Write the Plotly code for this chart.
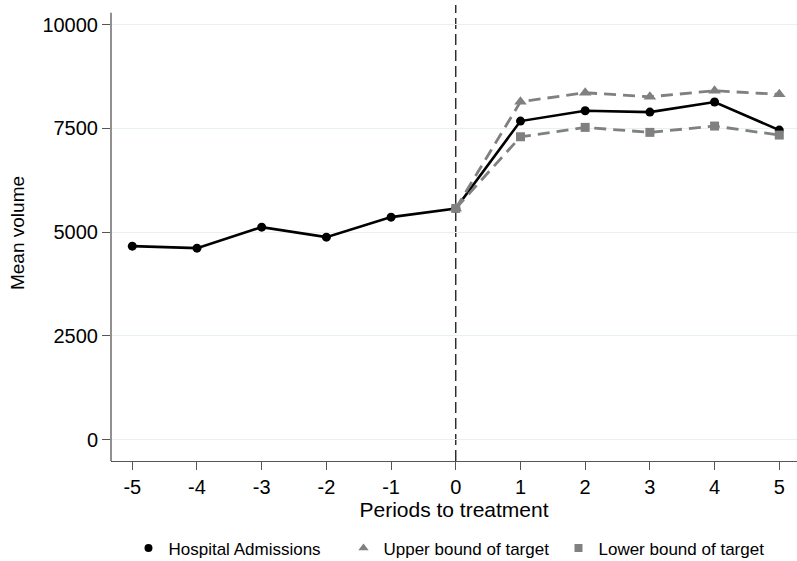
import plotly.graph_objects as go

periods = [-5, -4, -3, -2, -1, 0, 1, 2, 3, 4, 5]
admissions = [4662, 4614, 5121, 4880, 5362, 5572, 7677, 7926, 7894, 8136, 7460]

target_periods = [0, 1, 2, 3, 4, 5]
upper_bound = [5572, 8143, 8360, 8263, 8408, 8321]
lower_bound = [5572, 7299, 7525, 7405, 7557, 7340]

y_ticks = [0, 2500, 5000, 7500, 10000]

GRAY = "#808080"
AXIS = "#555555"
FONT = "Liberation Sans, Arial, sans-serif"
Y_MIN, Y_MAX = -516, 10475
Y_AXIS_TOP = 10289

fig = go.Figure()

fig.add_trace(go.Scatter(
    x=periods, y=admissions, mode="lines+markers",
    line=dict(color="black", width=2.6),
    marker=dict(symbol="circle", size=9, color="black"),
    showlegend=False,
))
fig.add_trace(go.Scatter(
    x=target_periods, y=upper_bound, mode="lines+markers",
    line=dict(color=GRAY, width=2.8, dash="12px,7px"),
    marker=dict(symbol="triangle-up", size=11, color=GRAY),
    showlegend=False,
))
fig.add_trace(go.Scatter(
    x=target_periods, y=lower_bound, mode="lines+markers",
    line=dict(color=GRAY, width=2.8, dash="12px,7px"),
    marker=dict(symbol="square", size=9, color=GRAY),
    showlegend=False,
))

# marker-only legend entries
for name, sym, col, sz in [
    ("Hospital Admissions", "circle", "black", 8),
    ("Upper bound of target", "triangle-up", GRAY, 9),
    ("Lower bound of target", "square", GRAY, 8),
]:
    fig.add_trace(go.Scatter(
        x=[None], y=[None], mode="markers", name=name,
        marker=dict(symbol=sym, size=sz, color=col),
    ))

# treatment onset
fig.add_shape(type="line", xref="x", yref="paper", x0=0, x1=0, y0=0, y1=1,
              line=dict(color="black", width=1.2, dash="11px,5px"), layer="below")
# y axis spine, stopping a little above the top tick
fig.add_shape(type="line", xref="paper", yref="y", x0=0, x1=0, y0=Y_MIN, y1=Y_AXIS_TOP,
              line=dict(color=AXIS, width=1.3), layer="above")

fig.update_layout(
    width=797, height=561,
    margin=dict(l=111, r=0, t=5, b=100, autoexpand=False),
    paper_bgcolor="white", plot_bgcolor="white",
    font=dict(family=FONT, color="black"),
    legend=dict(orientation="h", x=0.4956, xanchor="center", xref="paper",
                y=-0.192, yanchor="middle", font=dict(size=17),
                itemwidth=30, entrywidth=170, entrywidthmode="pixels"),
)

fig.update_xaxes(
    range=[-5.329, 5.274], tickvals=periods, ticktext=[str(p) for p in periods],
    showgrid=False, zeroline=False, showline=True, linecolor=AXIS, linewidth=1.3,
    ticks="outside", ticklen=8, tickcolor=AXIS, tickfont=dict(size=20),
    title=dict(text="Periods to treatment", font=dict(size=21), standoff=4),
)
fig.update_yaxes(
    range=[Y_MIN, Y_MAX], tickvals=y_ticks, ticktext=[str(t) for t in y_ticks],
    showgrid=True, gridcolor="#e8f1f2", gridwidth=1, zeroline=False,
    showline=False,
    ticks="outside", ticklen=8, tickcolor=AXIS, tickfont=dict(size=20),
    title=dict(text="Mean volume", font=dict(size=19), standoff=12),
)

fig.write_html("out.html")
